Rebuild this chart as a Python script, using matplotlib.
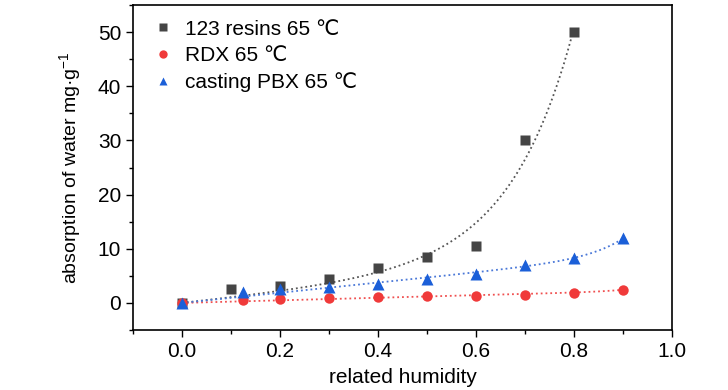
import numpy as np
import matplotlib
matplotlib.use("Agg")
from matplotlib import pyplot as plt
from matplotlib.ticker import MultipleLocator

plt.rcParams['font.family'] = ['Liberation Sans Narrow', 'Liberation Sans', 'DejaVu Sans']
plt.rcParams['mathtext.fontset'] = 'custom'
plt.rcParams['mathtext.rm'] = 'Liberation Sans'

# данные
resin_x = [0.0, 0.1, 0.2, 0.3, 0.4, 0.5, 0.6, 0.7, 0.8]
resin_y = [0.0, 2.5, 3.2, 4.5, 6.5, 8.4, 10.6, 30.0, 50.0]

rdx_x = [0.0, 0.125, 0.2, 0.3, 0.4, 0.5, 0.6, 0.7, 0.8, 0.9]
rdx_y = [0.0, 0.55, 0.75, 0.9, 1.05, 1.2, 1.35, 1.55, 1.8, 2.45]

pbx_x = [0.0, 0.125, 0.2, 0.3, 0.4, 0.5, 0.6, 0.7, 0.8, 0.9]
pbx_y = [0.0, 2.0, 2.6, 3.0, 3.5, 4.4, 5.3, 7.0, 8.3, 11.9]

labels = ['123 resins 65 \u2103', 'RDX 65 \u2103', 'casting PBX 65 \u2103']


def exp_fit(x, y):
    # y = A*(exp(x/t) - 1) + B*x, кривая через начало координат
    x = np.asarray(x)
    y = np.asarray(y)
    best = None
    for t in np.linspace(0.05, 3.0, 600):
        M = np.column_stack([np.exp(x / t) - 1, x])
        coef, *_ = np.linalg.lstsq(M, y, rcond=None)
        err = np.sum((M @ coef - y) ** 2)
        if best is None or err < best[0]:
            best = (err, t, coef)
    _, t, coef = best
    xs = np.linspace(x.min(), x.max(), 200)
    return xs, coef[0] * (np.exp(xs / t) - 1) + coef[1] * xs


fig = plt.figure(figsize=(7.28, 3.9), dpi=100)
ax = fig.add_axes([133 / 728, 1 - 330 / 390, (672 - 133) / 728, (330 - 5) / 390])

series = [
    (resin_x, resin_y, 's', '#454545', '#555555', 6.5, labels[0]),
    (rdx_x, rdx_y, 'o', '#f03a3a', '#f05050', 7.5, labels[1]),
    (pbx_x, pbx_y, '^', '#1b5fd8', '#4a78d8', 8, labels[2]),
]
for xs, ys, m, c, lc, ms, lab in series:
    fx, fy = exp_fit(xs, ys)
    ax.plot(fx, fy, ':', color=lc, lw=1.3, zorder=1)
    ax.plot(xs, ys, m, color=c, ms=ms, mec='none', label=lab, zorder=2)

ax.set_xlim(-0.1, 1.0)
ax.set_ylim(-5, 55)
ax.xaxis.set_major_locator(MultipleLocator(0.2))
ax.xaxis.set_minor_locator(MultipleLocator(0.1))
ax.yaxis.set_major_locator(MultipleLocator(10))
ax.yaxis.set_minor_locator(MultipleLocator(5))
ax.tick_params(which='major', direction='out', length=5, width=1, labelsize=15)
ax.tick_params(which='minor', direction='out', length=3, width=1)
ax.xaxis.set_major_formatter(plt.FuncFormatter(lambda v, p: f'{v:.1f}'))
for s in ax.spines.values():
    s.set_linewidth(1.2)

ax.set_xlabel('related humidity', fontsize=15, labelpad=5)
ax.set_ylabel('absorption of water mg\u00b7g$^{-1}$', fontsize=14, labelpad=10)

ax.legend(loc='upper left', bbox_to_anchor=(0.0, 1.0), frameon=False, fontsize=15,
          handletextpad=0.3, borderaxespad=0.3, labelspacing=0.35, handlelength=1.5,
          markerscale=0.8)

plt.savefig('out.png', dpi=100)
plt.close()
